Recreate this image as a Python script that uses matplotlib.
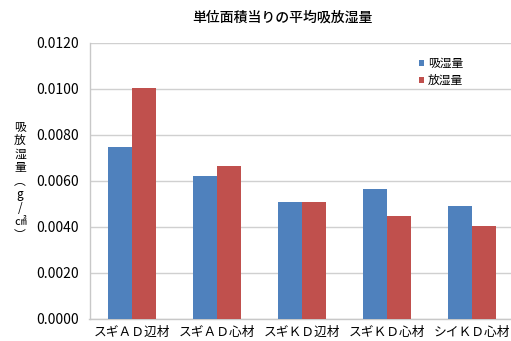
import matplotlib
matplotlib.use('Agg')
import matplotlib.pyplot as plt
import numpy as np

plt.rcParams['font.family'] = ['Noto Sans CJK JP', 'DejaVu Sans']

categories = ['スギＡＤ辺材', 'スギＡＤ心材', 'スギＫＤ辺材', 'スギＫＤ心材', 'シイＫＤ心材']
absorb = [0.00748, 0.00622, 0.00509, 0.00565, 0.00491]
release = [0.01004, 0.00665, 0.00509, 0.00448, 0.00404]
series_names = ['吸湿量', '放湿量']
yticks = [0.0, 0.002, 0.004, 0.006, 0.008, 0.010, 0.012]

fig = plt.figure(figsize=(5.11, 3.41), dpi=100)
ax = fig.add_axes([89.5 / 511, 1 - 319 / 341, 425 / 511, 276 / 341])

x = np.arange(len(categories))
w = 0.28
ax.bar(x - w / 2, absorb, w, color='#4F81BD', label=series_names[0], zorder=3)
ax.bar(x + w / 2, release, w, color='#C0504D', label=series_names[1], zorder=3)

ax.set_xlim(-0.5, len(categories) - 0.5)
ax.set_ylim(0, 0.012)
ax.set_yticks(yticks)
ax.set_yticklabels(['{:.4f}'.format(v) for v in yticks], fontsize=10)
ax.set_xticks(x)
ax.set_xticklabels(categories, fontsize=9.2)
ax.tick_params(length=0, pad=8)
ax.tick_params(axis='x', pad=5)

ax.grid(axis='y', color='#d0d0d0', linewidth=1, zorder=0)
for s in ['top', 'right']:
    ax.spines[s].set_visible(False)
for s in ['left', 'bottom']:
    ax.spines[s].set_color('#c8c8c8')
    ax.spines[s].set_linewidth(1)

fig.text(282 / 511, 1 - 18 / 341, '単位面積当りの平均吸放湿量', ha='center', va='center',
         fontsize=10, fontweight='medium')

ylab = ['吸', '放', '湿', '量', '︵', 'g', '/', '㎠', '︶']
fig.text(20 / 511, 1 - 181 / 341, '\n'.join(ylab), ha='center', va='center',
         fontsize=8.5, linespacing=1.05)

leg = ax.legend(loc='upper left', bbox_to_anchor=(413 / 511, 1 - 51 / 341),
                bbox_transform=fig.transFigure, frameon=False, fontsize=8.5,
                handlelength=0.45, handleheight=0.45, handletextpad=0.3,
                labelspacing=0.35, borderpad=0)

fig.savefig('out.png', dpi=100)
